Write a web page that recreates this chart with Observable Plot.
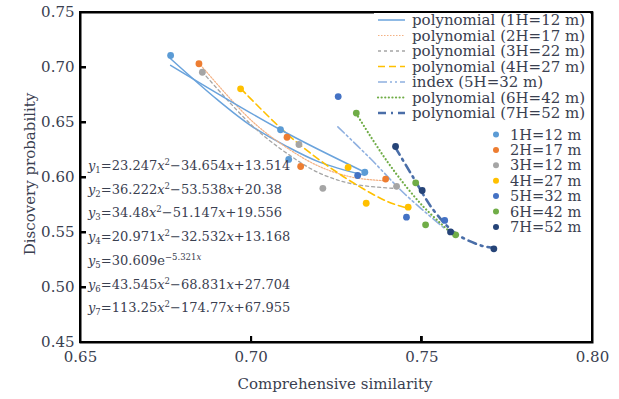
<!DOCTYPE html>
<html><head><meta charset="utf-8">
<script src="https://cdn.jsdelivr.net/npm/d3@7"></script>
<script src="https://cdn.jsdelivr.net/npm/@observablehq/plot@0.6"></script>
<style>body{margin:0;background:#fff}#chart{position:relative;width:619px;height:399px}.ov{position:absolute;background:#000;pointer-events:none}</style>
</head><body><div id="chart"></div>
<script>
// ---- data ----
const lineLabels = ["polynomial (1H=12 m)","polynomial (2H=17 m)","polynomial (3H=22 m)","polynomial (4H=27 m)","index (5H=32 m)","polynomial (6H=42 m)","polynomial (7H=52 m)"];
const pointLabels = ["1H=12 m","2H=17 m","3H=12 m","4H=27 m","5H=32 m","6H=42 m","7H=52 m"];
const colors = ["#5B9BD5","#ED7D31","#A5A5A5","#FFC000","#4472C4","#70AD47","#264478"];
const xTicks = [0.65,0.70,0.75,0.80];
const yTicks = [0.45,0.50,0.55,0.60,0.65,0.70,0.75];
const xInnerTicks = [0.70,0.75];
const yInnerTicks = [0.50,0.55,0.60,0.65,0.70];

// measured points
const ptX1 = [0.6764,0.7086,0.7110,0.7333], ptY1 = [0.7109,0.6434,0.6164,0.6048];
const ptX2 = [0.6847,0.7105,0.7145,0.7394], ptY2 = [0.7034,0.6366,0.6100,0.5986];
const ptX3 = [0.6857,0.7140,0.7210,0.7426], ptY3 = [0.6957,0.6300,0.5902,0.5920];
const ptX4 = [0.6969,0.7284,0.7337,0.7460], ptY4 = [0.6806,0.6091,0.5766,0.5730];
const ptX5 = [0.7255,0.7312,0.7455,0.7567], ptY5 = [0.6736,0.6018,0.5639,0.5610];
const ptX6 = [0.7308,0.7482,0.7511,0.7599], ptY6 = [0.6586,0.5952,0.5570,0.5479];
const ptX7 = [0.7423,0.7501,0.7584,0.7711], ptY7 = [0.6282,0.5882,0.5505,0.5352];

// trend curves
const fitX1 = [0.6764,0.690,0.700,0.710,0.720,0.7333], fitY1 = [0.708,0.671,0.647,0.629,0.614,0.602];
const altX1 = [0.6764,0.7086,0.7333], altY1 = [0.702,0.6434,0.6048];
const fitX2 = [0.6847,0.700,0.710,0.720,0.730,0.7394], fitY2 = [0.704,0.652,0.628,0.610,0.600,0.597];
const fitX3 = [0.6857,0.700,0.710,0.720,0.730,0.7426], fitY3 = [0.696,0.648,0.623,0.604,0.594,0.590];
const fitX4 = [0.6969,0.710,0.720,0.730,0.740,0.746], fitY4 = [0.681,0.641,0.616,0.595,0.578,0.572];
const fitX5 = [0.7254,0.735,0.745,0.7569], fitY5 = [0.646,0.617,0.585,0.553];
const fitX6 = [0.7308,0.740,0.750,0.7599], fitY6 = [0.658,0.614,0.575,0.546];
const fitX7 = [0.7423,0.7475,0.7535,0.760,0.7675,0.7711], fitY7 = [0.627,0.600,0.570,0.549,0.538,0.536];

const equations = [
  "y_1=23.247x^2−34.654x+13.514",
  "y_2=36.222x^2−53.538x+20.38",
  "y_3=34.48x^2−51.147x+19.556",
  "y_4=20.971x^2−32.532x+13.168",
  "y_5=30.609e^{−5.321x}",
  "y_6=43.545x^2−68.831x+27.704",
  "y_7=113.25x^2−174.77x+67.955"
];

// ---- build tables ----
const ptXs = [ptX1,ptX2,ptX3,ptX4,ptX5,ptX6,ptX7], ptYs = [ptY1,ptY2,ptY3,ptY4,ptY5,ptY6,ptY7];
const fitXs = [fitX1,fitX2,fitX3,fitX4,fitX5,fitX6,fitX7], fitYs = [fitY1,fitY2,fitY3,fitY4,fitY5,fitY6,fitY7];
const points = ptXs.flatMap((xs,i) => xs.map((x,j) => ({x, y: ptYs[i][j], s: i})));
const fits = fitXs.map((xs,i) => xs.map((x,j) => ({x, y: fitYs[i][j]})));
const alt1 = altX1.map((x,j) => ({x, y: altY1[j]}));

const lineStyles = [
  {stroke:"#6aa3dc", strokeWidth:1.5},
  {stroke:"#f4b183", strokeWidth:1.2, strokeDasharray:"1.5,1.5"},
  {stroke:"#a5a5a5", strokeWidth:1.3, strokeDasharray:"3,3"},
  {stroke:"#ffc000", strokeWidth:1.6, strokeDasharray:"7,4"},
  {stroke:"#8fb0e0", strokeWidth:1.6, strokeDasharray:"9,3,2,3,2,3"},
  {stroke:"#70ad47", strokeWidth:2.2, strokeDasharray:"0.1,3.5", strokeLinecap:"round"},
  {stroke:"#4a6ea8", strokeWidth:2.6, strokeDasharray:"8,5,2,5"}
];

const textColor = "#3a4050";
const plot = Plot.plot({
  width: 619, height: 399,
  marginLeft: 80, marginRight: 27, marginTop: 12, marginBottom: 57,
  x: {domain: [0.65, 0.80]},
  y: {domain: [0.45, 0.75]},
  style: {fontFamily: "DejaVu Serif", fontSize: "15px", color: textColor, background: "white", overflow: "visible"},
  marks: [
    Plot.axisX({ticks: xTicks, tickFormat: d3.format(".2f"), tickSize: 0, tickPadding: 9, label: null}),
    Plot.axisY({ticks: yTicks, tickFormat: d3.format(".2f"), tickSize: 0, tickPadding: 6, label: null}),
    ...fits.map((d,i) => Plot.line(d, {x: "x", y: "y", curve: "catmull-rom", ...lineStyles[i]})),
    Plot.line(alt1, {x: "x", y: "y", curve: "catmull-rom", ...lineStyles[0]}),
    Plot.dot(points, {x: "x", y: "y", r: 3.4, fill: d => colors[d.s]}),
    Plot.ruleY(yInnerTicks, {x1: 0.65, x2: 0.65 + 0.15 * 6 / 512, stroke: "#000", strokeWidth: 2}),
    Plot.ruleX(xInnerTicks, {y1: 0.45, y2: 0.45 + 0.30 * 6 / 330, stroke: "#000", strokeWidth: 2}),
    Plot.frame({stroke: "#000", strokeWidth: 2})
  ]
});
const chart = document.getElementById("chart");
chart.appendChild(plot);

// ---- annotations: titles, legend, equations ----
const svg = d3.select(plot);
const font = "DejaVu Serif";
const sx = plot.scale("x"), sy = plot.scale("y");

// frame and inward ticks, placed from the plot's own scales (overlay so they always show)
const L = sx.apply(0.65), R = sx.apply(0.80), T = sy.apply(0.75), B = sy.apply(0.45);
function bar(x, y, w, h) {
  const d = document.createElement("div");
  d.className = "ov";
  Object.assign(d.style, {left: x + "px", top: y + "px", width: w + "px", height: h + "px"});
  chart.appendChild(d);
}
bar(L - 1, T - 1, R - L + 2, 2);
bar(L - 1, B - 1, R - L + 2, 2);
bar(L - 1, T - 1, 2, B - T + 2);
bar(R - 1, T - 1, 2, B - T + 2);
yInnerTicks.forEach(v => bar(L, sy.apply(v) - 1, 6, 2));
xInnerTicks.forEach(v => bar(sx.apply(v) - 1, B - 6, 2, 6));

svg.append("text").attr("x", 335).attr("y", 389).attr("text-anchor", "middle")
  .attr("font-family", font).attr("font-size", 15).attr("fill", textColor).text("Comprehensive similarity");
svg.append("text").attr("transform", "translate(35,174) rotate(-90)").attr("text-anchor", "middle")
  .attr("font-family", font).attr("font-size", 15).attr("fill", textColor).text("Discovery probability");

// legend backgrounds
svg.append("rect").attr("x", 374).attr("y", 13).attr("width", 216).attr("height", 108).attr("fill", "white");
svg.append("rect").attr("x", 486).attr("y", 124).attr("width", 104).attr("height", 112).attr("fill", "white");

lineLabels.forEach((lab, i) => {
  const yy = 20 + 15.5 * i;
  const st = lineStyles[i];
  svg.append("line").attr("x1", 378).attr("x2", 405).attr("y1", yy).attr("y2", yy)
    .attr("stroke", st.stroke).attr("stroke-width", st.strokeWidth)
    .attr("stroke-dasharray", st.strokeDasharray || null).attr("stroke-linecap", st.strokeLinecap || null);
  svg.append("text").attr("x", 412).attr("y", yy + 5).attr("text-anchor", "start")
    .attr("font-family", font).attr("font-size", 15).attr("fill", textColor).text(lab);
});
pointLabels.forEach((lab, i) => {
  const yy = 134.5 + 15.4 * i;
  svg.append("circle").attr("cx", 496).attr("cy", yy).attr("r", 3).attr("fill", colors[i]);
  svg.append("text").attr("x", 510).attr("y", yy + 5).attr("text-anchor", "start")
    .attr("font-family", font).attr("font-size", 14.6).attr("fill", textColor).text(lab);
});

// equations with sub/superscripts
function addEq(str, x, y) {
  const t = svg.append("text").attr("x", x).attr("y", y).attr("text-anchor", "start")
    .attr("font-family", font).attr("font-size", 13).attr("fill", textColor);
  let shift = 0;
  const seg = (txt, mode) => {
    const target = mode === "sub" ? 3 : mode === "sup" ? -5 : 0;
    const sp = t.append("tspan").attr("dy", target - shift).text(txt);
    shift = target;
    if (mode !== "base") sp.attr("font-size", 8.5);
    return sp;
  };
  let i = 0;
  while (i < str.length) {
    const c = str[i];
    if (c === "_") { seg(str[i+1], "sub"); i += 2; continue; }
    if (c === "^") {
      if (str[i+1] === "{") {
        const end = str.indexOf("}", i);
        const inner = str.slice(i+2, end);
        for (const ch of inner) { const s = seg(ch, "sup"); if (ch === "x") s.attr("font-style", "italic"); }
        i = end + 1; continue;
      }
      seg(str[i+1], "sup"); i += 2; continue;
    }
    const s = seg(c, "base");
    if (c === "x" || c === "y") s.attr("font-style", "italic");
    i++;
  }
}
equations.forEach((e, i) => addEq(e, 88, 170 + 23.7 * i));
</script></body></html>
